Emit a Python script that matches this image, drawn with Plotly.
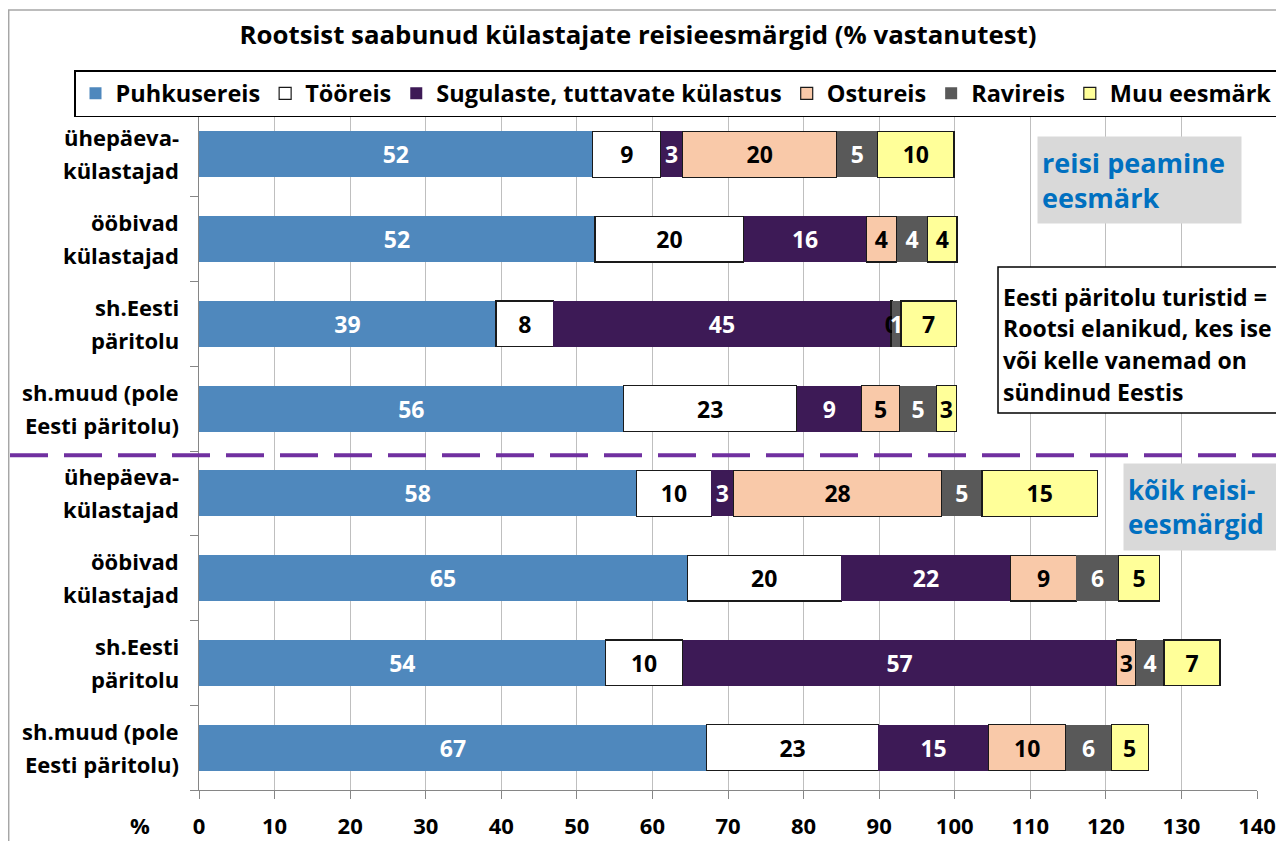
import plotly.graph_objects as go

# ---- data ----
rows = [0, 1, 2, 3, 4, 5, 6, 7]
label_line1 = ["ühepäeva-", "ööbivad", "sh.Eesti", "sh.muud (pole",
               "ühepäeva-", "ööbivad", "sh.Eesti", "sh.muud (pole"]
label_line2 = ["külastajad", "külastajad", "päritolu", "Eesti päritolu)",
               "külastajad", "külastajad", "päritolu", "Eesti päritolu)"]

puhkusereis = [52.1, 52.4, 39.3, 56.2, 57.9, 64.6, 53.8, 67.2]
tooreis = [9.0, 19.7, 7.6, 22.9, 9.9, 20.4, 10.2, 22.7]
sugulaste = [2.9, 16.2, 44.6, 8.6, 2.9, 22.4, 57.4, 14.6]
ostureis = [20.4, 4.0, 0.2, 5.0, 27.6, 8.7, 2.6, 10.2]
ravireis = [5.4, 4.1, 1.2, 4.9, 5.3, 5.6, 3.7, 6.0]
muu = [10.1, 3.9, 7.3, 2.6, 15.3, 5.4, 7.4, 4.9]

series_names = ["Puhkusereis", "Tööreis", "Sugulaste, tuttavate külastus",
                "Ostureis", "Ravireis", "Muu eesmärk"]
series_values = [puhkusereis, tooreis, sugulaste, ostureis, ravireis, muu]
series_colors = ["#4F88BD", "#FFFFFF", "#3D1A56", "#F9C9A9", "#595959", "#FFFF99"]
series_textcolors = ["white", "black", "white", "black", "white", "black"]
series_outline = [False, True, False, True, False, True]

x_ticks = list(range(0, 141, 10))

FONT = "Open Sans"

# page offset of the figure (browser body margin)
OFF = 8
W, H = 1284 - OFF, 841 - OFF
PL, PR, PT, PB = 199, 1257, 112, 790  # plot area in page pixels


def px(x):
    return (x - PL) / (PR - PL)


def py(y):
    return (PB - y) / (PB - PT)


fig = go.Figure()
for name, vals, col, tcol, outl in zip(series_names, series_values, series_colors,
                                       series_textcolors, series_outline):
    fig.add_trace(go.Bar(
        y=rows, x=vals, name=name, orientation="h", width=0.54,
        marker=dict(color=col, line=dict(color="#1a1a1a" if outl else col,
                                         width=1.2 if outl else 0)),
        texttemplate="%{x:.0f}", textposition="inside", insidetextanchor="middle",
        constraintext="none",
        textfont=dict(family=FONT, size=23, color=tcol, weight="bold"),
        hoverinfo="x+name",
    ))

annotations = []
# category labels (two lines each)
for r, l1, l2 in zip(rows, label_line1, label_line2):
    annotations.append(dict(xref="paper", yref="y", x=px(181), y=r, xanchor="right",
                            yanchor="middle", text=l1, showarrow=False, yshift=17,
                            font=dict(family=FONT, size=22, color="black", weight="bold")))
    annotations.append(dict(xref="paper", yref="y", x=px(181), y=r, xanchor="right",
                            yanchor="middle", text=l2, showarrow=False, yshift=-16,
                            font=dict(family=FONT, size=22, color="black", weight="bold")))

# "%" axis label
annotations.append(dict(xref="paper", yref="paper", x=px(140), y=py(825), text="%",
                        showarrow=False, xanchor="center", yanchor="middle",
                        font=dict(family=FONT, size=22, color="black", weight="bold")))

# grey boxes
annotations.append(dict(xref="paper", yref="paper", x=px(1037), y=py(136), xanchor="left",
                        yanchor="top", text="reisi peamine<br>eesmärk", showarrow=False,
                        align="left", bgcolor="#D9D9D9", width=195, height=78, borderpad=4,
                        font=dict(family=FONT, size=27, color="#0070C0", weight="bold")))
annotations.append(dict(xref="paper", yref="paper", x=px(1123), y=py(463), xanchor="left",
                        yanchor="top", text="kõik reisi-<br>eesmärgid", showarrow=False,
                        align="left", bgcolor="#D9D9D9", width=146, height=78, borderpad=4,
                        font=dict(family=FONT, size=26, color="#0070C0", weight="bold")))

# note box text lines
note_lines = ["Eesti päritolu turistid =", "Rootsi elanikud, kes ise",
              "või kelle vanemad on", "sündinud Eestis"]
note_y = [297, 328, 360, 392]
for t, ny in zip(note_lines, note_y):
    annotations.append(dict(xref="paper", yref="paper", x=px(1001),
                            y=py(ny), xanchor="left", yanchor="middle",
                            text=t, showarrow=False,
                            font=dict(family=FONT, size=23, color="black", weight="bold")))

shapes = [
    # outer chart border
    dict(type="rect", xref="paper", yref="paper", x0=px(8.7), x1=px(1300),
         y0=py(860), y1=py(10), line=dict(color="#A6A6A6", width=1.5),
         fillcolor="rgba(0,0,0,0)", layer="below"),
    # note box
    dict(type="rect", xref="paper", yref="paper", x0=px(998), x1=px(1283),
         y0=py(413), y1=py(267), line=dict(color="black", width=1.5),
         fillcolor="white", layer="above"),
    # dashed separator
    dict(type="line", xref="paper", yref="y", x0=px(10), x1=px(1300),
         y0=3.55, y1=3.55, line=dict(color="#7030A0", width=4, dash="38px,16px")),
]

fig.update_layout(
    width=W, height=H,
    margin=dict(l=PL - OFF, r=1284 - PR, t=PT - OFF, b=841 - PB, autoexpand=False),
    barmode="stack",
    paper_bgcolor="white", plot_bgcolor="white",
    title=dict(text="Rootsist saabunud külastajate reisieesmärgid (% vastanutest)",
               xref="container", yref="container", x=(638 - OFF) / W, y=1 - (35 - OFF) / H,
               xanchor="center", yanchor="middle",
               font=dict(family=FONT, size=25.8, color="black", weight="bold")),
    legend=dict(orientation="h", x=px(74), y=py(70),
                xanchor="left", yanchor="top", bgcolor="white",
                bordercolor="black", borderwidth=1.5, traceorder="normal",
                font=dict(family=FONT, size=23.5, color="black", weight="bold")),
    xaxis=dict(range=[0, 140], tickvals=x_ticks, showgrid=True, gridcolor="#BFBFBF",
               gridwidth=1, showline=True, linecolor="#868686", linewidth=1,
               ticks="outside", ticklen=8, tickcolor="#868686", zeroline=False,
               ticklabelstandoff=9, automargin=False,
               tickfont=dict(family=FONT, size=22, color="black", weight="bold")),
    yaxis=dict(range=[7.5, -0.5], tickvals=[i - 0.5 for i in range(9)],
               showticklabels=False, showgrid=False, ticks="outside", ticklen=8,
               tickcolor="#868686", showline=True, linecolor="#868686", linewidth=1,
               zeroline=False, automargin=False),
    annotations=annotations,
    shapes=shapes,
    showlegend=True,
)

fig.write_html("out.html")
